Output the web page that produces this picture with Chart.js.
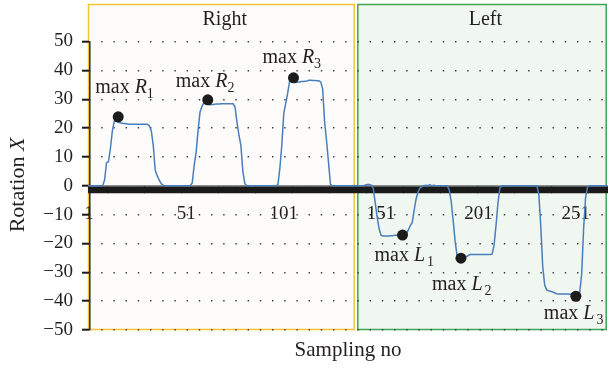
<!DOCTYPE html>
<html>
<head>
<meta charset="utf-8">
<script src="https://cdn.jsdelivr.net/npm/chart.js@4"></script>
<style>
  html, body { margin: 0; padding: 0; background: #fff; }
  #wrap { width: 610px; height: 368px; }
</style>
</head>
<body>
<div id="wrap"><canvas id="rotation-chart"></canvas></div>
<script>
// sample numbers on the x axis (categories)
const samples = Array.from({ length: 267 }, (_, i) => i + 1);
const tickLabels = [1, 51, 101, 151, 201, 251];
const yTicks = [-50, -40, -30, -20, -10, 0, 10, 20, 30, 40, 50];

// rotation around X, one value per sample
const rotationX = [
  0, 0, 0, 0, 0, 0, 0, 0, 2, 8,
  8.3, 13, 19, 22.5, 22.3, 22, 21.8, 21.7, 21.6, 21.5,
  21.4, 21.3, 21.3, 21.3, 21.3, 21.3, 21.3, 21.3, 21.3, 21.3,
  21.3, 20.8, 19, 14, 5.5, 3.5, 2, 0.8, 0.2, 0,
  0, 0, 0, 0, 0, 0, 0, 0, 0, 0,
  0, 0, 0, 1, 7, 11.5, 19, 25.5, 27.5, 28.8,
  28.5, 28.2, 28.1, 28.2, 28.2, 28.3, 28.3, 28.3, 28.4, 28.4,
  28.4, 28.4, 28.4, 28.4, 28.4, 27.3, 22, 17.5, 14, 5,
  0.8, 0, 0, 0, 0, 0, 0, 0, 0, 0,
  0, 0, 0, 0, 0, 0, 0, 0.3, 6, 14,
  25, 28.5, 32, 36.1, 36.3, 35.9, 35.8, 35.9, 36, 36.1,
  36.1, 36.2, 36.3, 36.6, 36.6, 36.5, 36.5, 36.4, 36.4, 36,
  33.5, 22, 15.5, 8, 0.5, 0, 0, 0, 0, 0,
  0, 0, 0, 0, 0, 0, 0, 0, 0, 0,
  0, 0, 0.3, 0.4, 0.4, 0.2, -1, -6, -11, -15,
  -17.2, -17.4, -17.4, -17.4, -17.4, -17.3, -17.3, -17.2, -17.2, -17.1,
  -17.1, -17, -16.9, -16.7, -15.3, -13.8, -12.7, -8.4, -4.5, -2,
  -0.8, -0.3, 0, 0.2, 0, 0.3, 0, 0.2, 0, 0,
  0, 0, 0, 0, 0, -1.5, -5.5, -12, -19.2, -24.1,
  -25, -25.1, -25.1, -24.9, -24.5, -24.1, -23.8, -23.8, -23.8, -23.8,
  -23.8, -23.8, -23.8, -23.8, -23.8, -23.8, -23.8, -23.7, -20.6, -13.8,
  -6, -0.8, 0, 0, 0, 0, 0, 0, 0, 0,
  0, 0, 0, 0, 0, 0, 0, 0, 0, 0,
  0, -3, -14, -28, -34.4, -36.1, -36.4, -36.6, -36.8, -37.1,
  -37.4, -37.5, -37.5, -37.5, -37.5, -37.5, -37.5, -37.6, -37.6, -37.6,
  -37.7, -37.6, -36.9, -30.5, -14.8, -4, -0.5, 0, 0, 0,
  0, 0, 0, 0, 0, 0, 0
];

// marked maxima
const peakLetters = ['R', 'R', 'R', 'L', 'L', 'L'];
const peakIndexes = ['1', '2', '3', '1', '2', '3'];
const peakSamples = [16, 62, 106, 162, 192, 251];
const peakValues = [23.9, 29.8, 37.4, -17.1, -25.1, -38.3];

// shaded regions, in sample units
const regionNames = ['Right', 'Left'];
const regionStart = [1, 139.3];
const regionEnd = [137.6, 267];

const serif = '"Liberation Serif", "Times New Roman", serif';
const textColor = '#231f20';
const regionFills = ['#fdfcfa', '#f0f7f1'];
const regionStrokes = ['#f2c531', '#3ea556'];
// label placement relative to each dot
const labelOffsets = [[-23, -24], [-32, -13], [-31, -15], [-28, 26], [-29, 32], [-32, 23]];

const decorations = {
  id: 'decorations',
  beforeDraw(chart) {
    const { ctx, chartArea, scales: { x, y } } = chart;
    ctx.save();
    regionNames.forEach((name, i) => {
      const left = x.getPixelForValue(regionStart[i] - 1) - 0.5;
      const right = x.getPixelForValue(regionEnd[i] - 1);
      ctx.fillStyle = regionFills[i];
      ctx.fillRect(left, chartArea.top, right - left, chartArea.bottom - chartArea.top);
      ctx.strokeStyle = regionStrokes[i];
      ctx.lineWidth = 1.5;
      ctx.strokeRect(left, chartArea.top + 0.5, right - left - 0.8, chartArea.bottom - chartArea.top - 1);
      ctx.fillStyle = textColor;
      ctx.font = '20px ' + serif;
      ctx.textAlign = 'center';
      ctx.textBaseline = 'alphabetic';
      ctx.fillText(name, (left + right) / 2 + 3, chartArea.top + 21);
    });
    // y axis line only over the tick range
    ctx.strokeStyle = '#2a2a2a';
    ctx.lineWidth = 1.5;
    ctx.beginPath();
    ctx.moveTo(chartArea.left + 0.8, y.getPixelForValue(50));
    ctx.lineTo(chartArea.left + 0.8, y.getPixelForValue(-50));
    ctx.stroke();
    // y axis title with italic X
    ctx.translate(18, (chartArea.top + chartArea.bottom) / 2 + 18);
    ctx.rotate(-Math.PI / 2);
    ctx.font = '22px ' + serif;
    const w1 = ctx.measureText('Rotation ').width;
    ctx.font = 'italic 22px ' + serif;
    const w2 = ctx.measureText('X').width;
    ctx.textBaseline = 'middle';
    ctx.textAlign = 'left';
    ctx.font = '22px ' + serif;
    ctx.fillText('Rotation ', -(w1 + w2) / 2, 0);
    ctx.font = 'italic 22px ' + serif;
    ctx.fillText('X', -(w1 + w2) / 2 + w1, 0);
    ctx.restore();
  },
  afterDatasetsDraw(chart) {
    const { ctx } = chart;
    const meta = chart.getDatasetMeta(0);
    ctx.save();
    ctx.fillStyle = textColor;
    ctx.textBaseline = 'alphabetic';
    ctx.textAlign = 'left';
    meta.data.forEach((pt, i) => {
      let tx = pt.x + labelOffsets[i][0];
      const ty = pt.y + labelOffsets[i][1];
      ctx.font = '20px ' + serif;
      ctx.fillText('max ', tx, ty);
      tx += ctx.measureText('max ').width;
      ctx.font = 'italic 20px ' + serif;
      ctx.fillText(peakLetters[i], tx, ty);
      tx += ctx.measureText(peakLetters[i]).width + (peakLetters[i] === 'L' ? 2 : 0);
      ctx.font = '14px ' + serif;
      ctx.fillText(peakIndexes[i], tx, ty + 5);
    });
    ctx.restore();
  }
};

const ctx = document.getElementById('rotation-chart').getContext('2d');
const chart = new Chart(ctx, {
  type: 'line',
  data: {
    labels: samples,
    datasets: [
      {
        label: 'Maxima',
        data: peakSamples.map((s, i) => ({ x: s, y: peakValues[i] })),
        showLine: false,
        pointRadius: 5.5,
        pointBackgroundColor: '#1c1c1c',
        pointBorderWidth: 0,
      },
      {
        label: 'Rotation X',
        data: rotationX,
        borderColor: '#4a7ebb',
        borderWidth: 1.5,
        pointRadius: 0,
        tension: 0,
      },
    ],
  },
  options: {
    responsive: true,
    maintainAspectRatio: false,
    animation: false,
    layout: { autoPadding: false, padding: { left: 0, right: 3, top: 4, bottom: 0 } },
    plugins: { legend: { display: false }, tooltip: { enabled: false } },
    scales: {
      x: {
        type: 'category',
        position: { y: 0 },
        grid: { drawOnChartArea: false, color: '#1a1a1a', lineWidth: 2, tickLength: 7 },
        border: { display: true, color: '#8c8c8c', width: 1.2 },
        ticks: {
          autoSkip: false,
          maxRotation: 0,
          minRotation: 0,
          padding: 10,
          color: textColor,
          font: { family: serif, size: 19 },
          callback: (v, i) => (tickLabels.includes(samples[i]) ? String(samples[i]) : ''),
        },
        afterFit: (s) => {
          s.height = 0;
          s.paddingLeft = 0;
          s.paddingRight = 0;
        },
      },
      x2: {
        type: 'linear',
        position: 'bottom',
        min: 0,
        max: 1,
        grid: { display: false },
        border: { display: false },
        ticks: { display: false },
        title: {
          display: true,
          text: 'Sampling no',
          color: textColor,
          font: { family: serif, size: 21 },
          padding: { top: 0, bottom: 5 },
        },
        afterFit: (s) => {
          s.height = 38;
          s.paddingLeft = 0;
          s.paddingRight = 0;
        },
      },
      y: {
        min: -50,
        max: 63,
        afterBuildTicks: (s) => { s.ticks = yTicks.map((v) => ({ value: v })); },
        grid: {
          color: '#3a3a3a',
          lineWidth: 1.4,
          tickColor: '#1a1a1a',
          tickWidth: 2,
          tickLength: 7,
        },
        border: { display: false, dash: [1.4, 10.8] },
        ticks: {
          padding: 9,
          color: textColor,
          font: { family: serif, size: 19 },
          callback: (v) => String(v).replace('-', '\u2212'),
        },
        afterFit: (s) => {
          s.width = 89;
          s.paddingTop = 0;
          s.paddingBottom = 0;
        },
      },
    },
  },
  plugins: [decorations],
});
</script>
</body>
</html>
